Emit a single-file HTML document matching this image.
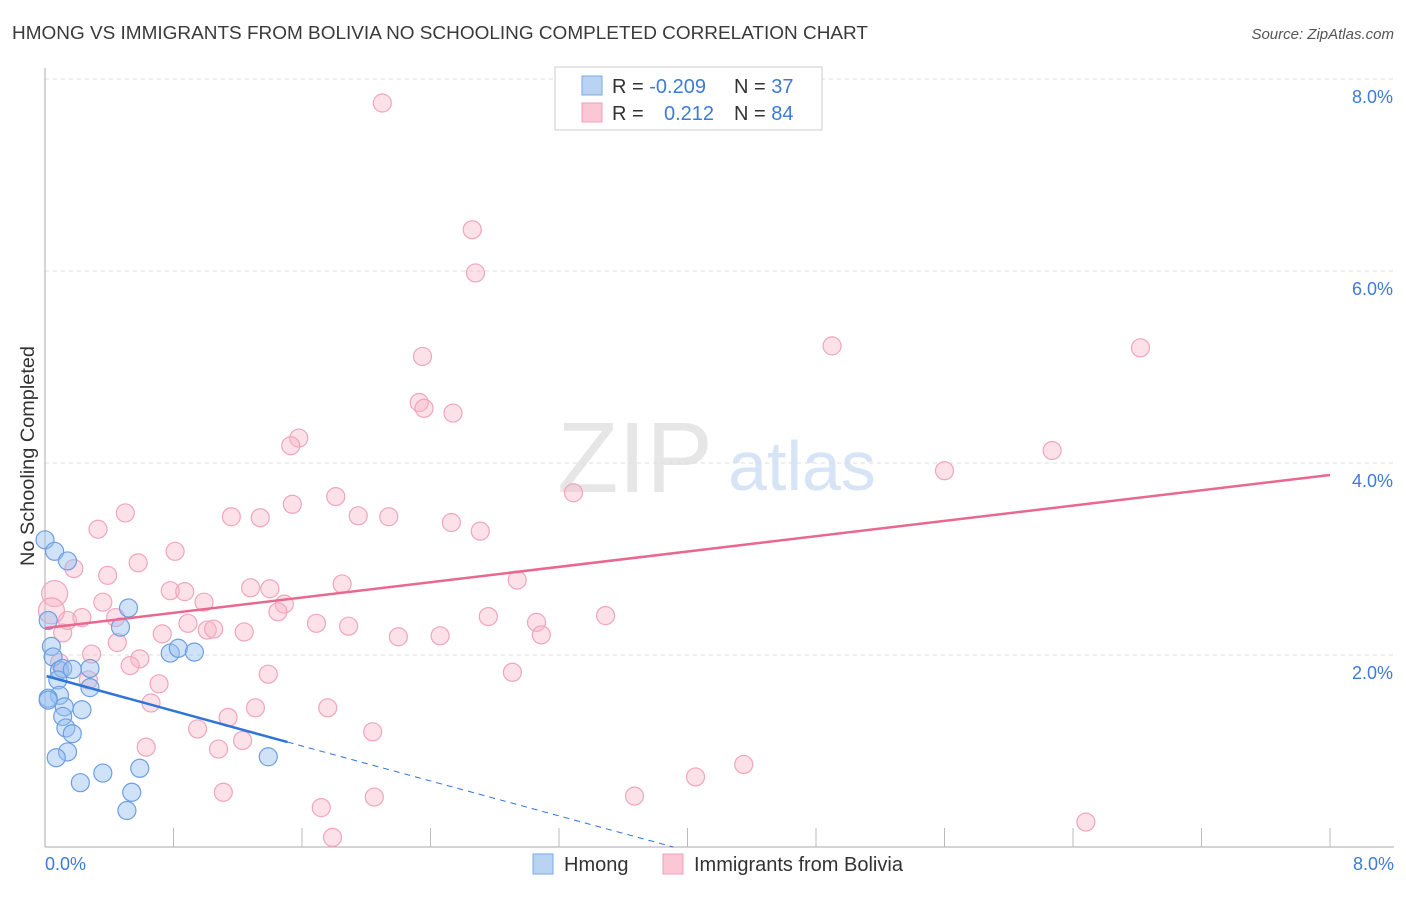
<!DOCTYPE html>
<html><head><meta charset="utf-8"><style>
body{margin:0;background:#fff;font-family:"Liberation Sans",sans-serif;}
svg text{font-family:"Liberation Sans",sans-serif;}
</style></head><body>
<svg width="1406" height="892" viewBox="0 0 1406 892">
<text x="12" y="39" font-size="18" fill="#3a3a3a" textLength="856" lengthAdjust="spacingAndGlyphs">HMONG VS IMMIGRANTS FROM BOLIVIA NO SCHOOLING COMPLETED CORRELATION CHART</text>
<text x="1394" y="39" font-size="15" fill="#555" text-anchor="end" font-style="italic">Source: ZipAtlas.com</text>
<g>
<text x="635" y="492" font-size="100" fill="#e6e6e6" font-family="Liberation Serif" text-anchor="middle">ZIP</text>
<text x="802" y="490" font-size="70" fill="#d6e4f5" text-anchor="middle">atlas</text>
</g>
<g id="grid"></g>
<g id="axes"></g>
<g id="pink"></g>
<g id="blue"></g>
<g id="trends"></g>
<text x="28" y="462" font-size="19" fill="#333" transform="rotate(-90 28 456)" text-anchor="middle" textLength="220" lengthAdjust="spacingAndGlyphs">No Schooling Completed</text>
<text x="45" y="870" font-size="18" fill="#3d7bd6">0.0%</text>
<text x="1394" y="870" font-size="18" fill="#3d7bd6" text-anchor="end">8.0%</text>
<g>
<rect x="555" y="67" width="267" height="63" fill="#fff" stroke="#ccc"/>
<rect x="582" y="76" width="20" height="19" fill="#b9d3f3" stroke="#7aa8e6"/>
<rect x="582" y="103" width="20" height="19" fill="#fbc6d5" stroke="#f0a0b8"/>
<text x="612" y="93" font-size="20" fill="#333">R = <tspan fill="#3d7bd6">-0.209</tspan></text>
<text x="734" y="93" font-size="20" fill="#333">N = <tspan fill="#3d7bd6">37</tspan></text>
<text x="612" y="120" font-size="20" fill="#333">R = <tspan fill="#3d7bd6" x="664">0.212</tspan></text>
<text x="734" y="120" font-size="20" fill="#333">N = <tspan fill="#3d7bd6">84</tspan></text>
</g>
<g>
<rect x="533" y="854" width="20" height="20" fill="#b9d3f3" stroke="#7aa8e6"/>
<text x="564" y="871" font-size="20" fill="#333">Hmong</text>
</g>
<g>
<rect x="663" y="854" width="20" height="20" fill="#fbc6d5" stroke="#f0a0b8"/>
<text x="694" y="871" font-size="20" fill="#333">Immigrants from Bolivia</text>
</g>
</svg>
<script>
const yTicks=[2,4,6,8];
const yTickLabels=["2.0%","4.0%","6.0%","8.0%"];
const blueX=[0.00,0.06,0.14,0.52,0.47,0.02,0.04,0.05,0.78,0.83,0.93,0.09,0.11,0.17,0.28,0.08,0.28,0.09,0.02,0.12,0.23,0.11,0.13,0.17,0.14,0.07,1.39,0.36,0.22,0.59,0.54,0.51,0.02];
const blueY=[3.20,3.08,2.98,2.49,2.29,2.36,2.09,1.98,2.02,2.07,2.03,1.84,1.86,1.85,1.86,1.74,1.66,1.58,1.55,1.46,1.43,1.36,1.24,1.18,0.99,0.93,0.94,0.77,0.67,0.82,0.57,0.38,1.53];
const pinkX=[2.10,2.66,2.68,2.35,4.90,6.82,2.33,2.36,2.54,1.58,1.53,6.27,5.60,3.29,1.81,1.54,0.33,0.50,1.16,1.34,1.95,2.14,2.53,2.71,0.81,0.58,0.18,0.39,2.94,1.85,1.28,1.40,0.78,0.87,0.99,0.36,1.49,2.76,3.49,3.06,1.69,1.89,0.89,1.01,1.05,0.73,1.24,2.20,2.46,3.09,1.45,0.45,0.11,0.14,0.23,0.44,0.29,0.59,0.53,0.27,2.91,1.39,0.71,0.66,1.76,1.31,1.14,2.04,0.95,0.63,1.23,1.08,4.05,4.35,1.11,3.67,1.72,2.05,1.79,6.48,0.06,0.04,0.09];
const pinkY=[7.75,6.43,5.98,5.11,5.22,5.20,4.63,4.57,4.52,4.26,4.18,4.13,3.92,3.69,3.65,3.57,3.31,3.48,3.44,3.43,3.45,3.44,3.38,3.29,3.08,2.96,2.90,2.83,2.78,2.74,2.70,2.69,2.67,2.66,2.55,2.55,2.53,2.40,2.41,2.34,2.33,2.30,2.33,2.26,2.27,2.22,2.24,2.19,2.20,2.21,2.45,2.13,2.23,2.36,2.39,2.39,2.01,1.96,1.89,1.74,1.82,1.80,1.70,1.50,1.45,1.45,1.35,1.20,1.23,1.04,1.11,1.02,0.73,0.86,0.57,0.53,0.41,0.52,0.10,0.26,2.64,2.46,1.92];
const pinkBig=[80,81];
const blueTrend=[1.78,-0.455];
const pinkTrend=[2.28,0.1994];
const NS="http://www.w3.org/2000/svg";
const X0=45,X1=1330,Y0=847,Y8=79;
const sx=v=>X0+(X1-X0)*v/8;
const sy=v=>Y0-(Y0-Y8)*v/8;
function mk(tag,attrs,parent){const e=document.createElementNS(NS,tag);for(const k in attrs)e.setAttribute(k,attrs[k]);document.getElementById(parent).appendChild(e);return e;}
yTicks.forEach((t,i)=>{
 const l=mk('line',{x1:X0,x2:1394,y1:sy(t),y2:sy(t),stroke:'#ddd','stroke-dasharray':'4 4'},'grid');
 
 
 const tx=mk('text',{x:1393,y:sy(t)+24,'font-size':18,fill:'#3d7bd6','text-anchor':'end'},'grid');
 tx.textContent=yTickLabels[i];
 
 
});
let ax=mk('line',{x1:X0,x2:X0,y1:68,y2:Y0,stroke:'#aaa'},'axes');


ax=mk('line',{x1:X0,x2:1394,y1:Y0,y2:Y0,stroke:'#aaa'},'axes');


for(let i=1;i<=10;i++){const t=mk('line',{x1:sx(i*0.8),x2:sx(i*0.8),y1:828,y2:Y0,stroke:'#bbb'},'axes');
 
 }
pinkX.forEach((x,i)=>{
 const big=pinkBig.includes(i);
 const c=mk('circle',{cx:sx(x),cy:sy(pinkY[i]),r:big?13:9,fill:'rgba(248,180,200,0.4)',stroke:'#f0a5bd','stroke-width':1.2},'pink');
 
 
});
blueX.forEach((x,i)=>{
 const c=mk('circle',{cx:sx(x),cy:sy(blueY[i]),r:9,fill:'rgba(150,190,240,0.45)',stroke:'#6c9fe2','stroke-width':1.2},'blue');
 
 
});
let t=mk('line',{x1:sx(0),y1:sy(pinkTrend[0]),x2:sx(8),y2:sy(pinkTrend[0]+8*pinkTrend[1]),stroke:'#e8688f','stroke-width':2.5},'trends');


const bEnd=1.51, bZero=-blueTrend[0]/blueTrend[1];
t=mk('line',{x1:sx(0.01),y1:sy(blueTrend[0]),x2:sx(bEnd),y2:sy(blueTrend[0]+bEnd*blueTrend[1]),stroke:'#2f74d8','stroke-width':2.5},'trends');


t=mk('line',{x1:sx(bEnd),y1:sy(blueTrend[0]+bEnd*blueTrend[1]),x2:sx(bZero),y2:sy(0),stroke:'#2f74d8','stroke-width':1,'stroke-dasharray':'6 5'},'trends');


</script>
</body></html>
